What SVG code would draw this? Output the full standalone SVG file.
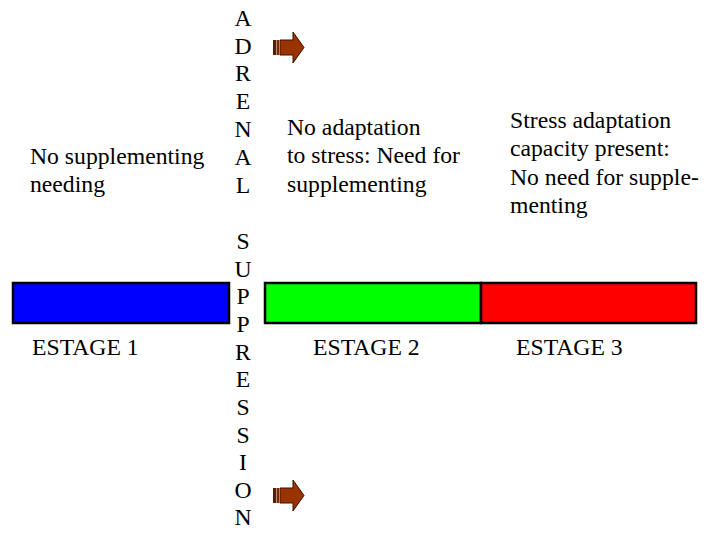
<svg xmlns="http://www.w3.org/2000/svg" width="714" height="542" viewBox="0 0 714 542">
<style>
text{font-size:23.7px;fill:#000}
.bar{stroke:#000;stroke-width:2.5}
.arr{fill:#993300;stroke:#3a1200;stroke-width:1}
.v{text-anchor:middle}
</style>
<defs>
<g id="striped">
<rect x="0" y="8" width="3" height="15" fill="#5a1c00"/>
<rect x="3.5" y="8" width="2.5" height="15" fill="#7a2600"/>
<path class="arr" d="M7,8 H20 V0 L31,15.5 L20,31 V23 H7 Z"/>
</g>
</defs>
<rect width="714" height="542" fill="#fff"/>
<g font-family="'Liberation Serif', 'DejaVu Serif', serif">
<g id="vertical-label">
<text class="v" x="243" y="26">A</text>
<text class="v" x="243" y="54">D</text>
<text class="v" x="243" y="81">R</text>
<text class="v" x="243" y="109">E</text>
<text class="v" x="243" y="137">N</text>
<text class="v" x="243" y="165">A</text>
<text class="v" x="243" y="193">L</text>
<text class="v" x="243" y="249">S</text>
<text class="v" x="243" y="277">U</text>
<text class="v" x="243" y="304">P</text>
<text class="v" x="243" y="332">P</text>
<text class="v" x="243" y="360">R</text>
<text class="v" x="243" y="387">E</text>
<text class="v" x="243" y="415">S</text>
<text class="v" x="243" y="443">S</text>
<text class="v" x="243" y="470">I</text>
<text class="v" x="243" y="498">O</text>
<text class="v" x="243" y="525">N</text>
</g>
<g id="arrow-top"><use href="#striped" x="273" y="32"/></g>
<g id="arrow-bottom"><use href="#striped" x="273" y="480"/></g>
<g id="stage1">
<rect class="bar" x="13" y="283" width="216" height="40" fill="#0000ff"/>
<text x="32" y="355">ESTAGE 1</text>
<text x="30" y="164">No supplementing</text>
<text x="30" y="192">needing</text>
</g>
<g id="stage2">
<rect class="bar" x="265" y="283" width="216" height="40" fill="#00ff00"/>
<text x="313" y="355">ESTAGE 2</text>
<text x="287" y="135">No adaptation</text>
<text x="287" y="163">to stress: Need for</text>
<text x="287" y="192">supplementing</text>
</g>
<g id="stage3">
<rect class="bar" x="481" y="283" width="215" height="40" fill="#ff0000"/>
<text x="516" y="355">ESTAGE 3</text>
<text x="510" y="128">Stress adaptation</text>
<text x="510" y="156">capacity present:</text>
<text x="510" y="185">No need for supple-</text>
<text x="510" y="213">menting</text>
</g>
</g>
<g id="connectors"></g>
</svg>
